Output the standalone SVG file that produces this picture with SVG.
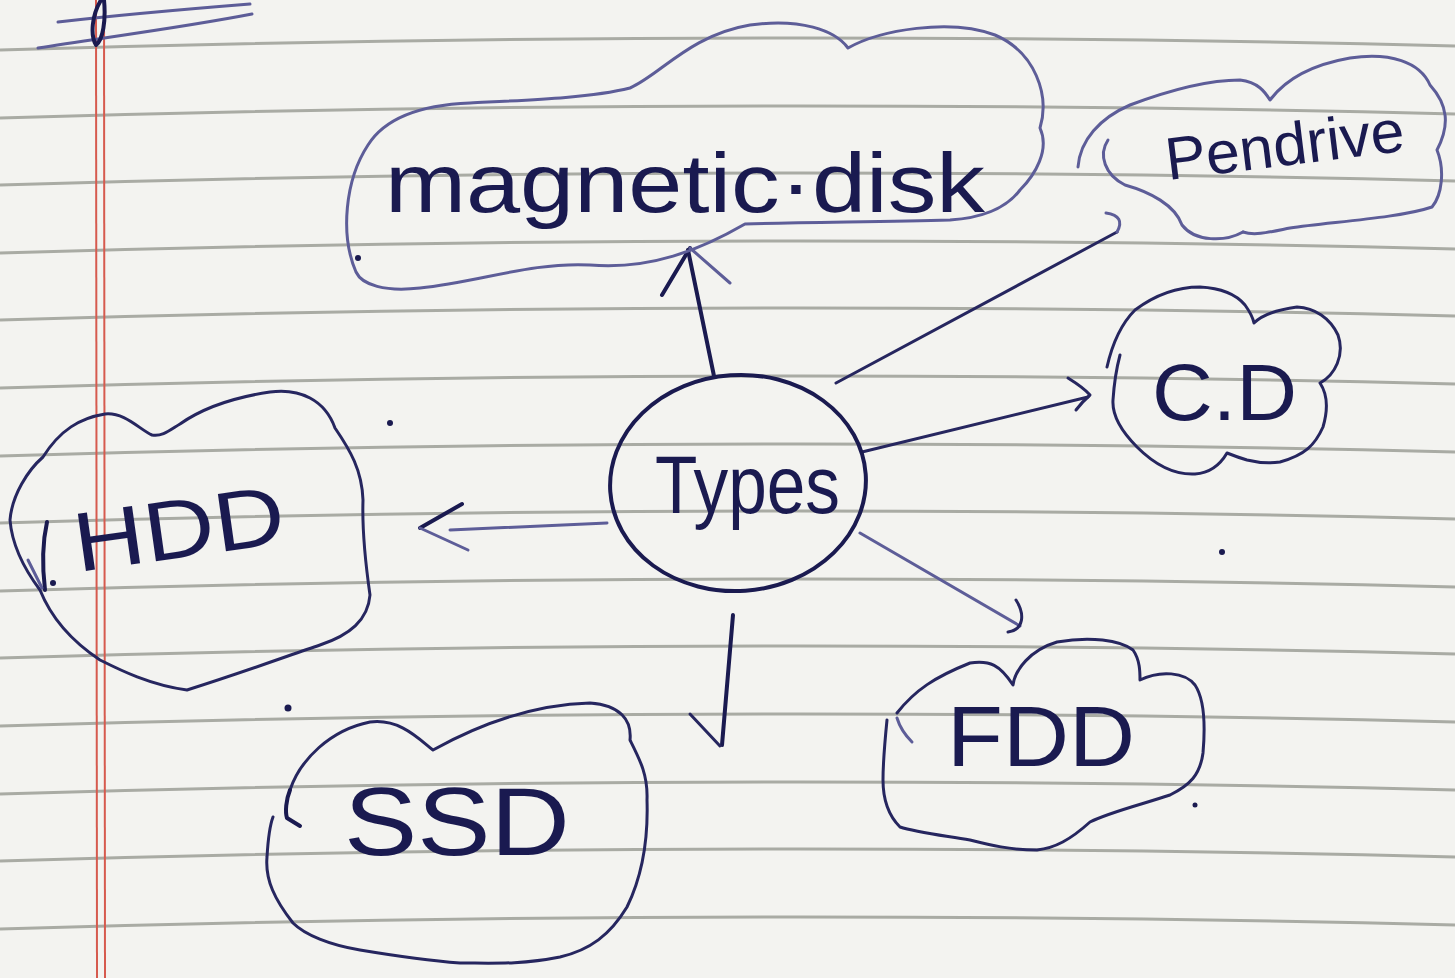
<svg xmlns="http://www.w3.org/2000/svg" width="1455" height="978" viewBox="0 0 1455 978">
<style>
.rule{fill:none;stroke:#a9aba4;stroke-width:3}
.margin{stroke:#d65a4e;stroke-width:2}
.ink{fill:none;stroke:#26265f;stroke-width:3;stroke-linecap:round;stroke-linejoin:round}
.faint{fill:none;stroke:#5d5d98;stroke-width:3;stroke-linecap:round;stroke-linejoin:round}
.bold{fill:none;stroke:#1a1a50;stroke-width:4;stroke-linecap:round;stroke-linejoin:round}
.lbl{font-family:"Liberation Sans","DejaVu Sans",sans-serif;fill:#1a1a50}
.dot{fill:#1a1a50}
</style>
<rect width="1455" height="978" fill="#f3f3f0"/>
<g id="paper">
<path class="rule" d="M0,50 Q727,28 1455,46"/>
<path class="rule" d="M0,118 Q727,96 1455,114"/>
<path class="rule" d="M0,185 Q727,163 1455,181"/>
<path class="rule" d="M0,253 Q727,231 1455,249"/>
<path class="rule" d="M0,320 Q727,298 1455,316"/>
<path class="rule" d="M0,388 Q727,366 1455,384"/>
<path class="rule" d="M0,456 Q727,434 1455,452"/>
<path class="rule" d="M0,523 Q727,501 1455,519"/>
<path class="rule" d="M0,591 Q727,569 1455,587"/>
<path class="rule" d="M0,658 Q727,636 1455,654"/>
<path class="rule" d="M0,726 Q727,704 1455,722"/>
<path class="rule" d="M0,794 Q727,772 1455,790"/>
<path class="rule" d="M0,861 Q727,839 1455,857"/>
<path class="rule" d="M0,929 Q727,907 1455,925"/>
<line class="margin" x1="96" y1="0" x2="97" y2="978"/>
<line class="margin" x1="104" y1="0" x2="105" y2="978"/>
<path class="faint" d="M58,22 C110,16 200,8 250,4"/>
<path class="faint" d="M38,48 C100,38 180,28 252,14"/>
<path class="bold" d="M101,0 C92,15 90,35 96,45 C103,40 106,20 104,0"/>
<circle class="dot" cx="390" cy="423" r="3"/>
<circle class="dot" cx="288" cy="708" r="3.5"/>
<circle class="dot" cx="1222" cy="552" r="3"/>
<circle class="dot" cx="1195" cy="805" r="2.5"/>
</g>
<g id="connectors">
<path class="bold" d="M714,376 L688,250"/>
<path class="bold" d="M662,295 L690,248"/>
<path class="faint" d="M690,248 L730,283"/>
<path class="ink" d="M836,383 L1117,232"/>
<path class="faint" d="M1106,213 Q1126,216 1117,232"/>
<path class="ink" d="M862,452 L1088,397"/>
<path class="ink" d="M1068,378 Q1084,388 1090,395 Q1082,402 1076,410"/>
<path class="faint" d="M860,533 L1020,626"/>
<path class="ink" d="M1016,600 C1025,614 1024,630 1008,632"/>
<path class="bold" d="M733,615 L722,745"/>
<path class="ink" d="M690,714 L720,746"/>
<path class="faint" d="M607,523 L450,530"/>
<path class="bold" d="M462,504 L420,528"/>
<path class="faint" d="M420,528 L468,550"/>
</g>
<g id="types">
<ellipse class="bold" cx="738" cy="483" rx="128" ry="108" transform="rotate(-4 738 483)"/>
<text class="lbl" x="655" y="513" font-size="82" textLength="185" lengthAdjust="spacingAndGlyphs">Types</text>
</g>
<g id="magnetic-disk">
<path class="faint" d="M356,272 C340,235 345,180 368,145 C385,118 420,105 470,103 C530,100 590,98 630,88 C660,75 690,35 750,25 C800,18 835,30 848,48 C880,30 950,18 995,35 C1035,52 1050,95 1040,128 C1050,150 1035,175 1020,190 C1005,210 980,218 950,220 C880,222 800,222 745,224 C700,250 650,270 590,265 C530,262 480,282 420,288 C385,292 362,285 356,272 Z"/>
<circle class="dot" cx="358" cy="258" r="3"/>
<text class="lbl" x="385" y="212" font-size="84" textLength="600" lengthAdjust="spacingAndGlyphs">magnetic·disk</text>
</g>
<g id="pendrive">
<path class="faint" d="M1078,167 C1080,140 1100,118 1130,105 C1170,90 1210,80 1240,80 C1258,82 1265,92 1270,100 C1285,80 1310,65 1350,58 C1390,52 1420,62 1430,85 C1448,105 1450,125 1437,150 C1445,170 1442,195 1432,207 C1400,218 1330,222 1290,228 C1270,232 1255,236 1243,232"/>
<path class="faint" d="M1243,232 C1225,242 1195,242 1182,225 C1175,205 1150,192 1125,185 C1105,175 1098,155 1108,140"/>
<text class="lbl" x="1168" y="180" font-size="60" fill="#3a3a78" textLength="240" lengthAdjust="spacingAndGlyphs" transform="rotate(-7 1168 180)">Pendrive</text>
</g>
<g id="cd">
<path class="ink" d="M1107,367 C1112,345 1120,325 1135,310 C1155,295 1175,287 1200,287 C1220,288 1235,293 1245,305 C1250,312 1253,318 1254,323 C1262,315 1275,310 1297,307 C1315,308 1330,318 1338,335 C1345,355 1335,375 1320,383 C1328,395 1328,410 1323,427 C1315,445 1305,455 1280,462 C1265,464 1255,462 1247,460 C1240,458 1232,455 1227,453 C1220,465 1210,473 1195,474 C1175,475 1155,465 1137,447 C1120,430 1112,415 1113,400 C1114,385 1116,370 1120,355"/>
<text class="lbl" x="1152" y="420" font-size="80" textLength="145" lengthAdjust="spacingAndGlyphs">C.D</text>
</g>
<g id="hdd">
<path class="ink" d="M43,457 C60,430 80,418 105,414 C125,412 140,430 152,435 C162,437 170,430 180,424 C200,410 230,398 270,392 C300,388 325,400 335,428 C350,450 362,470 363,500 C362,530 365,560 370,595 C368,620 350,635 320,645 C290,655 250,670 187,690 C150,685 120,670 100,660 C70,640 50,615 40,590 C25,570 12,545 10,520 C12,495 28,470 43,457 Z"/>
<path class="bold" d="M45,590 C42,565 43,540 47,522"/>
<path class="faint" d="M28,560 L42,588"/>
<circle class="dot" cx="53" cy="583" r="3"/>
<text class="lbl" x="78" y="572" font-size="84" textLength="212" lengthAdjust="spacingAndGlyphs" transform="rotate(-8 78 572)">HDD</text>
</g>
<g id="ssd">
<path class="ink" d="M290,790 C300,760 330,730 370,722 C400,718 420,740 433,750 C460,735 520,705 590,703 C620,705 632,720 630,740 C640,760 648,775 647,800 C648,830 645,870 627,907 C610,935 590,950 560,957 C520,965 490,963 460,963 C420,960 390,955 360,950 C330,945 305,935 293,923 C275,900 265,880 267,857 C268,840 270,825 273,817"/>
<path class="bold" d="M290,790 C286,800 285,812 287,818 L300,826"/>
<text class="lbl" x="344" y="855" font-size="96" textLength="226" lengthAdjust="spacingAndGlyphs">SSD</text>
</g>
<g id="fdd">
<path class="ink" d="M897,713 C915,690 935,677 970,663 C990,660 1000,665 1013,685 C1015,670 1030,650 1057,642 C1090,636 1120,640 1133,650 C1140,660 1140,672 1140,680 C1160,670 1185,672 1195,685 C1205,700 1205,730 1203,753 C1200,775 1190,785 1170,795 C1140,805 1110,812 1090,822 C1070,840 1055,848 1037,850 C1010,850 990,845 970,840 C940,835 915,832 900,827 C888,815 883,800 883,780 C883,760 885,740 887,720"/>
<path class="faint" d="M897,718 C900,728 905,735 912,742"/>
<text class="lbl" x="947" y="766" font-size="86" textLength="188" lengthAdjust="spacingAndGlyphs">FDD</text>
</g>
</svg>
